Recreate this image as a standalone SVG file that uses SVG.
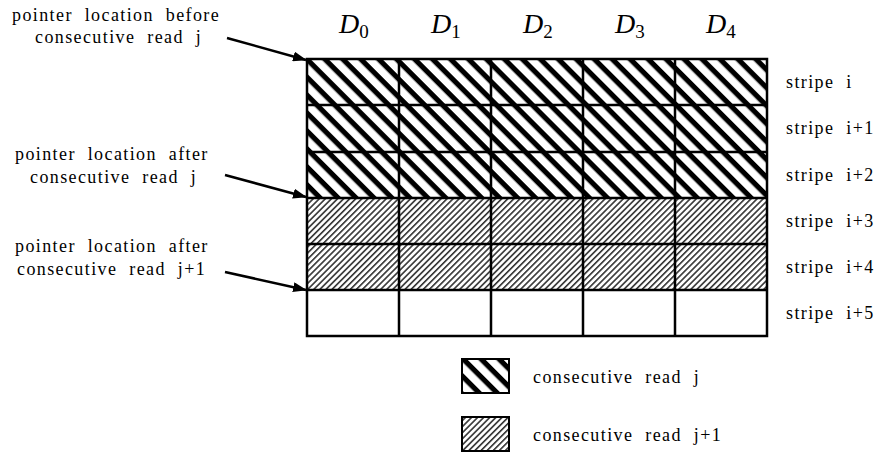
<svg xmlns="http://www.w3.org/2000/svg" width="878" height="454" viewBox="0 0 878 454">
<style>
  .t { font-family: 'Liberation Serif', 'DejaVu Serif', serif; font-size: 18px; letter-spacing: 1.4px; word-spacing: 6px; fill: #000; }
  .d { font-family: 'Liberation Serif', 'DejaVu Serif', serif; font-size: 28px; font-style: italic; fill: #000; }
  .sub { font-style: normal; font-size: 19px; }
  .grid { stroke: #000; stroke-width: 2.5; fill: none; }
  .arrow { stroke: #000; stroke-width: 2.5; fill: none; marker-end: url(#ah); }
  .lg { stroke: #000; stroke-width: 2; }
</style>
<defs>
  <pattern id="dark" patternUnits="userSpaceOnUse" width="12.7" height="12.7" patternTransform="rotate(45)">
    <rect x="0" y="0" width="12.7" height="12.7" fill="#fff"/>
    <rect x="0" y="0" width="12.7" height="5.2" fill="#000"/>
  </pattern>
  <pattern id="light" patternUnits="userSpaceOnUse" width="4.3" height="4.3" patternTransform="rotate(-45)">
    <rect x="0" y="0" width="4.3" height="4.3" fill="#fff"/>
    <rect x="0" y="0" width="4.3" height="1.6" fill="#333"/>
  </pattern>
  <marker id="ah" markerWidth="14" markerHeight="10" refX="13" refY="5" orient="auto" markerUnits="userSpaceOnUse">
    <path d="M0,0 L14,5 L0,10 z" fill="#000"/>
  </marker>
</defs>

<g id="headers">
  <text class="d" x="339" y="33">D<tspan class="sub" dy="5">0</tspan></text>
  <text class="d" x="431" y="33">D<tspan class="sub" dy="5">1</tspan></text>
  <text class="d" x="523" y="33">D<tspan class="sub" dy="5">2</tspan></text>
  <text class="d" x="615" y="33">D<tspan class="sub" dy="5">3</tspan></text>
  <text class="d" x="706" y="33">D<tspan class="sub" dy="5">4</tspan></text>
</g>

<g id="grid">
  <rect x="307" y="59" width="460" height="139" fill="url(#dark)"/>
  <rect x="307" y="198" width="460" height="92" fill="url(#light)"/>
  <rect x="307" y="290" width="460" height="46" fill="#fff"/>
  <path class="grid" d="M399,59 V336 M491,59 V336 M583,59 V336 M675,59 V336 M307,105 H767 M307,152 H767 M307,198 H767 M307,244 H767 M307,290 H767"/>
  <rect class="grid" x="307" y="59" width="460" height="277" stroke-width="3"/>
</g>

<g id="stripe-labels">
  <text class="t" x="786" y="88">stripe i</text>
  <text class="t" x="786" y="134">stripe i+1</text>
  <text class="t" x="786" y="181">stripe i+2</text>
  <text class="t" x="786" y="227">stripe i+3</text>
  <text class="t" x="786" y="273">stripe i+4</text>
  <text class="t" x="786" y="319">stripe i+5</text>
</g>

<g id="label-before">
  <text class="t" x="12" y="21">pointer location before</text>
  <text class="t" x="35" y="43">consecutive read j</text>
</g>
<g id="label-after-j">
  <text class="t" x="15" y="160">pointer location after</text>
  <text class="t" x="30" y="183">consecutive read j</text>
</g>
<g id="label-after-j1">
  <text class="t" x="15" y="252">pointer location after</text>
  <text class="t" x="17" y="275">consecutive read j+1</text>
</g>

<g id="connectors">
  <line class="arrow" x1="227" y1="38" x2="306" y2="60"/>
  <line class="arrow" x1="225" y1="175" x2="306" y2="197"/>
  <line class="arrow" x1="225" y1="272" x2="306" y2="290"/>
</g>

<g id="legend-j">
  <rect class="lg" x="462" y="359" width="47" height="34" fill="url(#dark)"/>
  <text class="t" x="533" y="383">consecutive read j</text>
</g>
<g id="legend-j1">
  <rect class="lg" x="462" y="417" width="47" height="34" fill="url(#light)"/>
  <text class="t" x="533" y="441">consecutive read j+1</text>
</g>
</svg>
